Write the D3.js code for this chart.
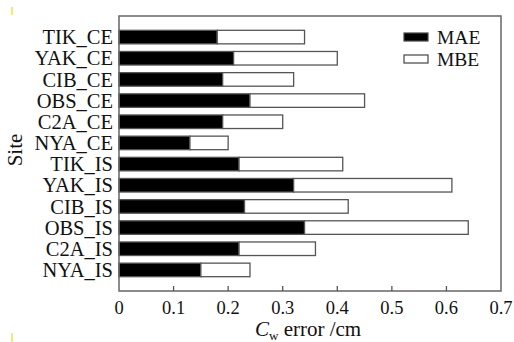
<!DOCTYPE html>
<html>
<head>
<meta charset="utf-8">
<script src="https://cdn.jsdelivr.net/npm/d3@7"></script>
<style>
  body { margin: 0; background: #fff; }
</style>
</head>
<body>
<div id="chart"></div>
<script>
// site labels, top to bottom
const sites = ["TIK_CE", "YAK_CE", "CIB_CE", "OBS_CE", "C2A_CE", "NYA_CE",
               "TIK_IS", "YAK_IS", "CIB_IS", "OBS_IS", "C2A_IS", "NYA_IS"];
// black segment
const mae = [0.18, 0.21, 0.19, 0.24, 0.19, 0.13, 0.22, 0.32, 0.23, 0.34, 0.22, 0.15];
// white segment, stacked after MAE
const mbe = [0.16, 0.19, 0.13, 0.21, 0.11, 0.07, 0.19, 0.29, 0.19, 0.30, 0.14, 0.09];
const xTicks = [0, 0.1, 0.2, 0.3, 0.4, 0.5, 0.6, 0.7];
const seriesNames = ["MAE", "MBE"];

const width = 514, height = 342;
const plot = {left: 119, right: 501, top: 16, bottom: 291};

const svg = d3.select("#chart")
    .append("svg")
    .attr("width", width)
    .attr("height", height)
    .style("display", "block")
    .attr("font-family", "Liberation Serif")
    .attr("fill", "#111");

const x = d3.scaleLinear()
    .domain([0, 0.7])
    .range([plot.left, plot.right]);

const y = d3.scaleBand()
    .domain(sites)
    .range([plot.top + 10.5, plot.bottom - 10.5])
    .paddingInner(0.36)
    .paddingOuter(0.18);

const rows = sites.map((s, i) => ({site: s, MAE: mae[i], MBE: mbe[i]}));
const stacked = d3.stack().keys(seriesNames)(rows);
const fills = {MAE: "#000", MBE: "#fff"};

// bars
svg.append("g")
    .selectAll("g")
    .data(stacked)
    .enter()
    .append("g")
    .attr("fill", d => fills[d.key])
    .selectAll("rect")
    .data(d => d)
    .enter()
    .append("rect")
    .attr("x", d => x(d[0]))
    .attr("y", d => y(d.data.site))
    .attr("width", d => x(d[1]) - x(d[0]))
    .attr("height", y.bandwidth())
    .attr("stroke", "#555")
    .attr("stroke-width", 1.3);

// frame
svg.append("rect")
    .attr("x", plot.left)
    .attr("y", plot.top)
    .attr("width", plot.right - plot.left)
    .attr("height", plot.bottom - plot.top)
    .attr("fill", "none")
    .attr("stroke", "#666")
    .attr("stroke-width", 1.5);

// bottom ticks (inward) and labels
const xAxis = svg.append("g");
xAxis.selectAll("line")
    .data(xTicks.slice(1, -1))
    .enter()
    .append("line")
    .attr("x1", d => x(d)).attr("x2", d => x(d))
    .attr("y1", plot.bottom).attr("y2", plot.bottom - 5)
    .attr("stroke", "#555")
    .attr("stroke-width", 1.3);
xAxis.selectAll("text")
    .data(xTicks)
    .enter()
    .append("text")
    .attr("x", d => x(d))
    .attr("y", 314)
    .attr("text-anchor", "middle")
    .attr("font-size", 18.5)
    .text(d => d === 0 ? "0" : d3.format(".1f")(d));

// site labels
svg.append("g")
    .selectAll("text")
    .data(sites)
    .enter()
    .append("text")
    .attr("x", plot.left - 6)
    .attr("y", d => y(d) + y.bandwidth() / 2)
    .attr("dy", "0.35em")
    .attr("text-anchor", "end")
    .attr("font-size", 20.5)
    .text(d => d);

// axis titles
const xt = svg.append("text")
    .attr("x", 255)
    .attr("y", 336)
    .attr("font-size", 21);
xt.append("tspan").attr("font-style", "italic").text("C");
xt.append("tspan").attr("font-size", 13).attr("dy", 4).text("w");
xt.append("tspan").attr("dy", -4).text(" error /cm");

svg.append("text")
    .attr("transform", "translate(22,150) rotate(-90)")
    .attr("text-anchor", "middle")
    .attr("font-size", 21)
    .text("Site");

// legend
const legend = svg.append("g");
seriesNames.forEach((name, i) => {
    legend.append("rect")
        .attr("x", 404)
        .attr("y", 33 + i * 22)
        .attr("width", 24)
        .attr("height", 8)
        .attr("fill", fills[name])
        .attr("stroke", "#444")
        .attr("stroke-width", 1.2);
    legend.append("text")
        .attr("x", 437)
        .attr("y", 37 + i * 22)
        .attr("dy", "0.35em")
        .attr("font-size", 19.5)
        .text(name);
});

// small yellow marks at left edge
[[7, 15], [333, 342]].forEach(([a, b]) => {
    svg.append("line")
        .attr("x1", 12).attr("x2", 12)
        .attr("y1", a).attr("y2", b)
        .attr("stroke", "#f2e24a")
        .attr("stroke-width", 1.5);
});
</script>
</body>
</html>
